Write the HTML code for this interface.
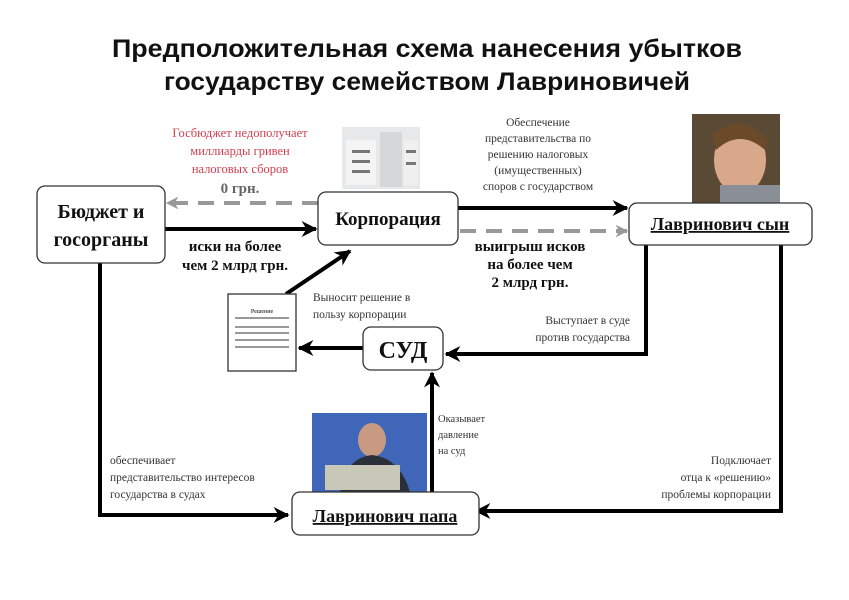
<!DOCTYPE html>
<html><head><meta charset="utf-8"><style>
html,body{margin:0;padding:0;background:#fff;}
svg{display:block;}
.s{font-family:"Liberation Serif","DejaVu Serif",serif;}
</style></head><body>
<svg width="849" height="600" viewBox="0 0 849 600" xmlns="http://www.w3.org/2000/svg">
<defs>
<marker id="ab" viewBox="0 0 10 10" refX="9" refY="5" markerWidth="4" markerHeight="4" orient="auto"><path d="M0,0 L10,5 L0,10 L3,5 z" fill="#000"/></marker>
<marker id="ag" viewBox="0 0 10 10" refX="9" refY="5" markerWidth="3.2" markerHeight="3.2" orient="auto"><path d="M0,0 L10,5 L0,10 L3,5 z" fill="#999"/></marker>
</defs>
<text x="427" y="57" text-anchor="middle" font-family="Liberation Sans,sans-serif" font-weight="bold" font-size="25" textLength="630" lengthAdjust="spacingAndGlyphs" fill="#111">Предположительная схема нанесения убытков</text>
<text x="427" y="90" text-anchor="middle" font-family="Liberation Sans,sans-serif" font-weight="bold" font-size="25" textLength="526" lengthAdjust="spacingAndGlyphs" fill="#111">государству семейством Лавриновичей</text>

<g>
<rect x="342" y="127" width="78" height="62" fill="#e6e8ea"/>
<rect x="346" y="140" width="30" height="45" fill="#f4f4f4"/>
<rect x="380" y="132" width="22" height="55" fill="#d5d8db"/>
<rect x="404" y="140" width="14" height="45" fill="#f0f0f0"/>
<g fill="#777"><rect x="352" y="150" width="18" height="3"/><rect x="352" y="160" width="18" height="3"/><rect x="352" y="170" width="18" height="3"/><rect x="406" y="150" width="10" height="3"/><rect x="406" y="162" width="10" height="3"/></g>
</g>
<rect x="692" y="114" width="88" height="89" fill="#5a4a35"/>
<ellipse cx="740" cy="160" rx="26" ry="34" fill="#d9a88a"/>
<path d="M712,135 Q740,110 768,140 L765,150 Q740,128 716,150 z" fill="#6b4a2a"/>
<rect x="720" y="185" width="60" height="18" fill="#8a8e96"/>
<rect x="312" y="413" width="115" height="79" fill="#3f66b8"/>
<ellipse cx="372" cy="440" rx="14" ry="17" fill="#c99a82"/>
<path d="M340,492 Q345,458 372,455 Q400,458 410,492 z" fill="#2b2f3a"/>
<rect x="325" y="465" width="75" height="25" fill="#c8c8b8"/>

<g fill="none" stroke-width="4">
<line x1="318" y1="203" x2="167" y2="203" stroke="#999" stroke-dasharray="16,10" marker-end="url(#ag)"/>
<line x1="165" y1="229" x2="316" y2="229" stroke="#000" marker-end="url(#ab)"/>
<line x1="458" y1="208" x2="627" y2="208" stroke="#000" marker-end="url(#ab)"/>
<line x1="460" y1="231" x2="627" y2="231" stroke="#999" stroke-dasharray="16,10" marker-end="url(#ag)"/>
<line x1="286" y1="294" x2="350" y2="251" stroke="#000" marker-end="url(#ab)"/>
<polyline points="646,245 646,354 446,354" stroke="#000" marker-end="url(#ab)"/>
<line x1="363" y1="348" x2="299" y2="348" stroke="#000" marker-end="url(#ab)"/>
<line x1="432" y1="492" x2="432" y2="373" stroke="#000" marker-end="url(#ab)"/>
<polyline points="100,263 100,515 288,515" stroke="#000" marker-end="url(#ab)"/>
<polyline points="781,245 781,511 476,511" stroke="#000" marker-end="url(#ab)"/>
</g>

<g fill="#fff" stroke="#333" stroke-width="1.3">
<rect x="37" y="186" width="128" height="77" rx="8"/>
<rect x="318" y="192" width="140" height="53" rx="8"/>
<rect x="629" y="203" width="183" height="42" rx="8"/>
<rect x="363" y="327" width="80" height="43" rx="8"/>
<rect x="292" y="492" width="187" height="43" rx="8"/>
<rect x="228" y="294" width="68" height="77" rx="0"/>
</g>
<g stroke="#333" stroke-width="1"><line x1="235" y1="318" x2="289" y2="318"/><line x1="235" y1="327" x2="289" y2="327"/><line x1="235" y1="333" x2="289" y2="333"/><line x1="235" y1="340" x2="289" y2="340"/><line x1="235" y1="347" x2="289" y2="347"/></g>
<text x="262" y="313" text-anchor="middle" class="s" font-size="6">Решение</text>

<g class="s" font-weight="bold" fill="#111" text-anchor="middle">
<text x="101" y="218" font-size="20">Бюджет и</text>
<text x="101" y="246" font-size="20">госорганы</text>
<text x="388" y="225" font-size="19">Корпорация</text>
<text x="720" y="230" font-size="18" text-decoration="underline">Лавринович сын</text>
<text x="403" y="358" font-size="24">СУД</text>
<text x="385" y="522" font-size="18" text-decoration="underline">Лавринович папа</text>
<text x="235" y="251" font-size="15">иски на более</text>
<text x="235" y="270" font-size="15">чем 2 млрд грн.</text>
<text x="530" y="251" font-size="15">выигрыш исков</text>
<text x="530" y="269" font-size="15">на более чем</text>
<text x="530" y="287" font-size="15">2 млрд грн.</text>
<text x="240" y="193" font-size="15" fill="#666">0 грн.</text>
</g>
<g class="s" fill="#d04050" text-anchor="middle" font-size="12.5">
<text x="240" y="137">Госбюджет недополучает</text>
<text x="240" y="155">миллиарды гривен</text>
<text x="240" y="173">налоговых сборов</text>
</g>
<g class="s" fill="#333" font-size="11.5">
<g text-anchor="middle">
<text x="538" y="126">Обеспечение</text>
<text x="538" y="142">представительства по</text>
<text x="538" y="158">решению налоговых</text>
<text x="538" y="174">(имущественных)</text>
<text x="538" y="190">споров с государством</text>
</g>
<text x="313" y="301">Выносит решение в</text>
<text x="313" y="318">пользу корпорации</text>
<g text-anchor="end">
<text x="630" y="324">Выступает в суде</text>
<text x="630" y="341">против государства</text>
<text x="771" y="464">Подключает</text>
<text x="771" y="481">отца к «решению»</text>
<text x="771" y="498">проблемы корпорации</text>
</g>
<text x="438" y="422" font-size="10.5">Оказывает</text>
<text x="438" y="438" font-size="10.5">давление</text>
<text x="438" y="454" font-size="10.5">на суд</text>
<text x="110" y="464">обеспечивает</text>
<text x="110" y="481">представительство интересов</text>
<text x="110" y="498">государства в судах</text>
</g>
</svg>
</body></html>
